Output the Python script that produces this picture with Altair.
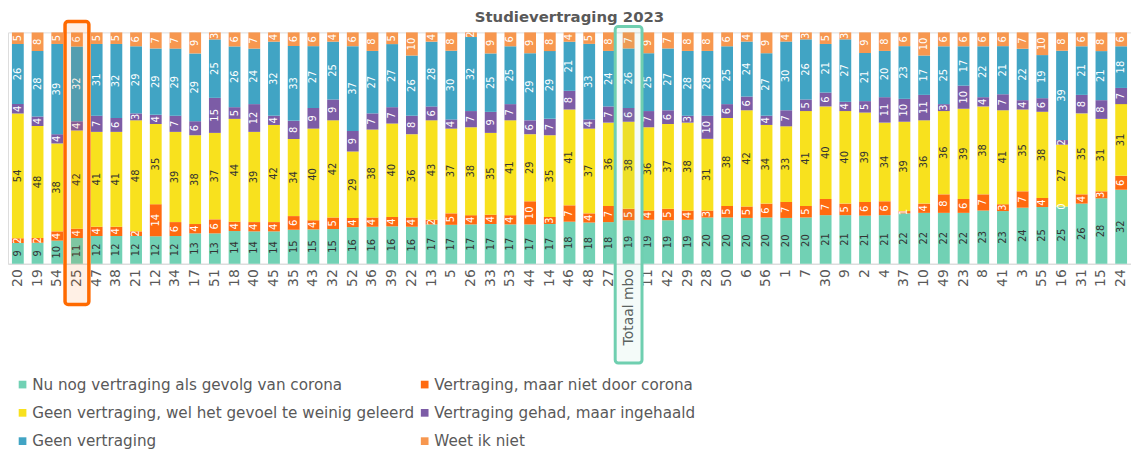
import altair as alt
import pandas as pd

categories = ["20", "19", "54", "25", "47", "38", "21", "12", "34", "17", "51", "18", "40", "45",
              "35", "43", "32", "52", "36", "39", "22", "13", "5", "26", "33", "53", "44", "14",
              "46", "48", "27", "Totaal mbo", "11", "42", "29", "28", "50", "6", "56", "1", "7",
              "30", "9", "2", "4", "37", "10", "49", "23", "8", "41", "3", "55", "16", "31", "15", "24"]

corona_now = [9, 9, 10, 11, 12, 12, 12, 12, 12, 13, 13, 14, 14, 14, 15, 15, 15, 16, 16, 16, 16, 17, 17, 17,
              17, 17, 17, 17, 18, 18, 18, 19, 19, 19, 19, 20, 20, 20, 20, 20, 20, 21, 21, 21, 21, 22, 22,
              22, 22, 23, 23, 24, 25, 25, 26, 28, 32]
not_corona = [2, 2, 4, 4, 4, 4, 2, 14, 6, 4, 6, 4, 4, 4, 6, 4, 5, 4, 4, 4, 4, 2, 5, 4, 4, 4, 10, 3, 7, 4,
              7, 5, 4, 5, 4, 3, 5, 5, 6, 7, 5, 7, 5, 6, 6, 1, 4, 8, 6, 7, 3, 7, 4, 0, 4, 3, 6]
too_little = [54, 48, 38, 42, 41, 41, 48, 35, 39, 38, 37, 44, 39, 42, 34, 40, 42, 29, 38, 40, 36, 43, 37,
              38, 35, 41, 29, 35, 41, 37, 36, 38, 36, 37, 38, 31, 38, 42, 34, 33, 41, 40, 40, 39, 34, 39,
              36, 36, 39, 38, 41, 35, 38, 27, 35, 31, 31]
caught_up = [4, 4, 4, 4, 7, 6, 3, 4, 7, 6, 15, 5, 12, 4, 8, 9, 9, 9, 7, 7, 8, 6, 4, 7, 9, 7, 6, 7, 8, 4,
             7, 6, 7, 6, 3, 10, 6, 6, 4, 7, 5, 6, 4, 5, 11, 10, 11, 3, 10, 4, 7, 4, 6, 2, 8, 8, 7]
no_delay = [26, 28, 39, 32, 31, 32, 29, 29, 29, 29, 25, 26, 24, 32, 33, 27, 25, 37, 27, 27, 26, 28, 30,
            32, 25, 25, 29, 29, 21, 33, 24, 26, 25, 27, 28, 28, 25, 24, 27, 30, 26, 21, 27, 21, 20, 23,
            17, 25, 17, 22, 21, 22, 19, 39, 21, 21, 18]
dont_know = [5, 8, 5, 6, 5, 5, 6, 7, 7, 9, 3, 6, 7, 4, 6, 6, 4, 6, 8, 5, 10, 4, 8, 2, 9, 6, 9, 8, 4, 5,
             8, 7, 9, 7, 8, 8, 6, 4, 9, 4, 3, 5, 3, 9, 8, 6, 10, 6, 6, 6, 6, 7, 10, 8, 6, 8, 6]

series_names = ["Nu nog vertraging als gevolg van corona",
                "Vertraging, maar niet door corona",
                "Geen vertraging, wel het gevoel te weinig geleerd",
                "Vertraging gehad, maar ingehaald",
                "Geen vertraging",
                "Weet ik niet"]
series_colors = ["#71D1B4", "#FF6A10", "#F8E11E", "#7C5CA6", "#41A4C4", "#F7974F"]
label_colors = ["#333333", "#ffffff", "#333333", "#ffffff", "#ffffff", "#ffffff"]

highlight_orange = ["25"]
highlight_teal = ["Totaal mbo"]

series_values = [corona_now, not_corona, too_little, caught_up, no_delay, dont_know]

rows = []
for ci, cat in enumerate(categories):
    total = sum(s[ci] for s in series_values)
    cum = 0.0
    for si, s in enumerate(series_values):
        v = s[ci]
        rows.append({"cat": cat, "series": series_names[si], "idx": si, "val": v,
                     "mid": (cum + v / 2) / total, "tc": label_colors[si]})
        cum += v
df = pd.DataFrame(rows)

FONT = "DejaVu Sans"
W, H = 1131, 233

xenc = alt.X("cat:N", scale=alt.Scale(domain=categories, paddingInner=0.4, paddingOuter=0.2),
             axis=alt.Axis(title=None, labelAngle=270, labelFontSize=14, labelFont=FONT,
                           labelColor="#595959", ticks=False, domainColor="#d9d9d9",
                           labelPadding=5))

bars = alt.Chart(df).mark_bar().encode(
    x=xenc,
    y=alt.Y("val:Q", stack="normalize", scale=alt.Scale(domain=[0, 1]), axis=None),
    color=alt.Color("series:N", scale=alt.Scale(domain=series_names, range=series_colors),
                    legend=alt.Legend(title=None, orient="none", legendX=7, legendY=347,
                                      columns=2, direction="horizontal", symbolType="square",
                                      symbolSize=60, symbolStrokeWidth=0, labelFontSize=15.3,
                                      labelFont=FONT, labelColor="#595959", rowPadding=12.5,
                                      columnPadding=3, labelOffset=2, labelLimit=400)),
    order=alt.Order("idx:Q"),
)

texts = alt.Chart(df).mark_text(angle=270, fontSize=10, font=FONT, align="center",
                                baseline="middle").encode(
    x=alt.X("cat:N", scale=alt.Scale(domain=categories)),
    y=alt.Y("mid:Q", scale=alt.Scale(domain=[0, 1])),
    text=alt.Text("val:Q"),
    color=alt.Color("tc:N", scale=None),
)

box_o = alt.Chart(pd.DataFrame({"cat": highlight_orange})).mark_bar(
    size=24, cornerRadius=3, stroke="#FF6A00", strokeWidth=3.5, fill="#FF6A00", fillOpacity=0.1
).encode(x=alt.X("cat:N", scale=alt.Scale(domain=categories)), y=alt.value(-11), y2=alt.value(274))

box_t = alt.Chart(pd.DataFrame({"cat": highlight_teal})).mark_bar(
    size=27, cornerRadius=3, stroke="#6FCFB0", strokeWidth=3, fill="#6FCFB0", fillOpacity=0.08
).encode(x=alt.X("cat:N", scale=alt.Scale(domain=categories)), y=alt.value(-6), y2=alt.value(333))

chart = alt.layer(bars, texts, box_o, box_t).properties(
    width=W, height=H, padding=0,
    title=alt.TitleParams("Studievertraging 2023", fontSize=15, font=FONT, fontWeight="bold",
                          color="#595959", anchor="middle", offset=-5),
).configure_view(stroke="#7FD6BD", strokeWidth=2).configure(background="white")

chart.save("out.html", embed_options={"renderer": "svg", "actions": False})
